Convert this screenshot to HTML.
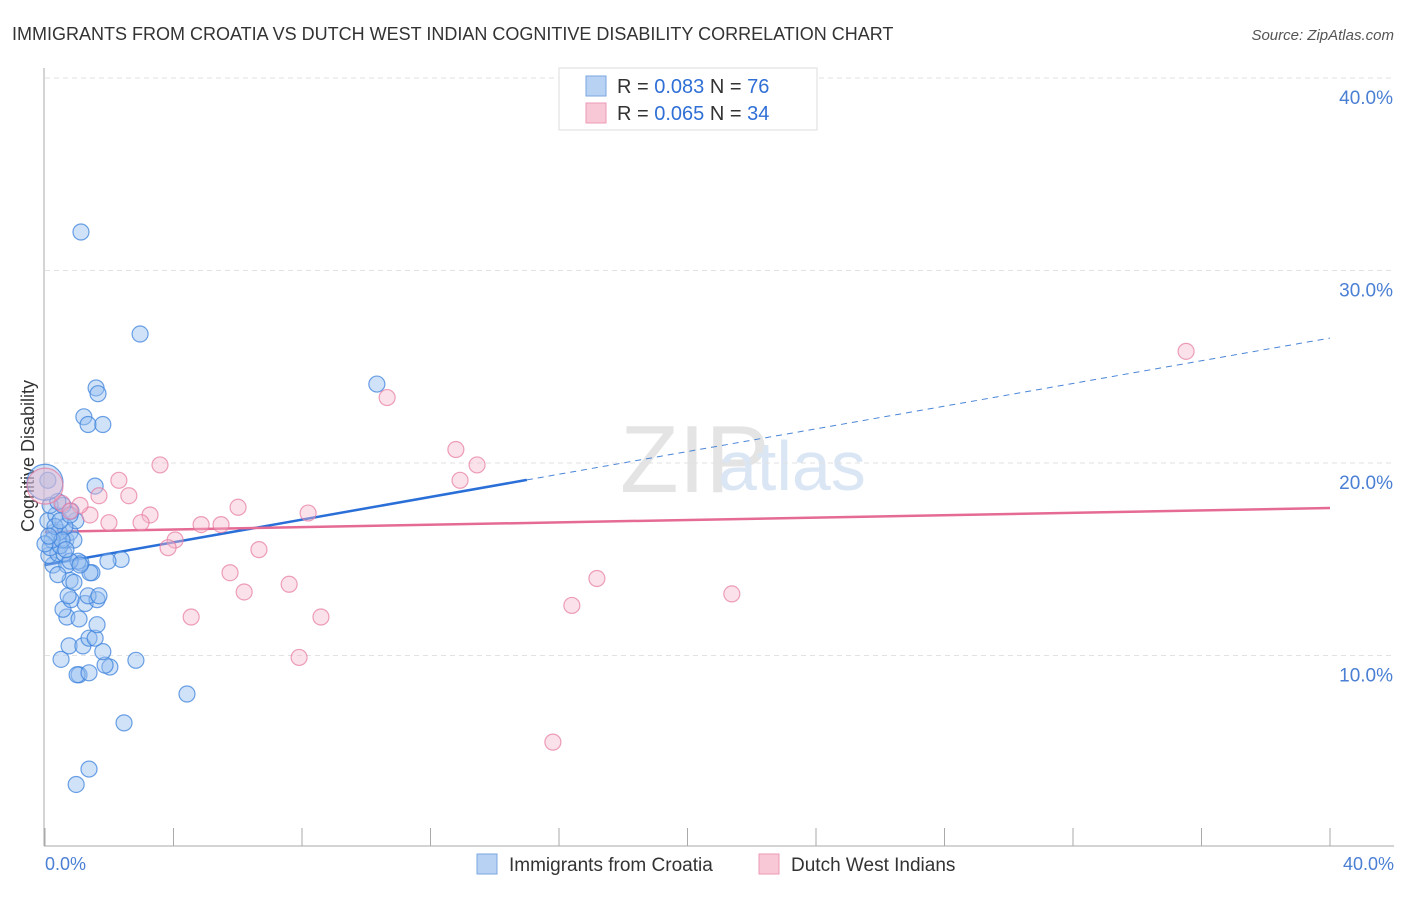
<!DOCTYPE html>
<html><head><meta charset="utf-8"><style>
body{margin:0;background:#fff;font-family:"Liberation Sans",sans-serif;}
svg text{font-family:"Liberation Sans",sans-serif;}
</style></head><body>
<svg id="c" width="1406" height="892">
<text x="12" y="40" font-size="18" fill="#333">IMMIGRANTS FROM CROATIA VS DUTCH WEST INDIAN COGNITIVE DISABILITY CORRELATION CHART</text>
<text x="1394" y="40" font-size="15" fill="#555" font-style="italic" text-anchor="end">Source: ZipAtlas.com</text>
<text x="620" y="492" font-size="96" fill="#e4e4e4" font-family="Liberation Serif">ZIP</text>
<text x="718" y="490" font-size="70" fill="#dbe6f5">atlas</text>
<g id="grid"></g>
<line x1="44" y1="68" x2="44" y2="846" stroke="#aaa"/>
<line x1="44" y1="846" x2="1394" y2="846" stroke="#aaa"/>
<text transform="translate(34,456) rotate(-90)" font-size="18" fill="#333" text-anchor="middle">Cognitive Disability</text>
<text x="45" y="870" font-size="18" fill="#4a7fd4">0.0%</text>
<text x="1394" y="870" font-size="18" fill="#4a7fd4" text-anchor="end">40.0%</text>
<g id="ticks"></g>
<g id="lines"></g>
<g id="pts"></g>
<g>
<rect x="559" y="68" width="258" height="62" fill="#fff" stroke="#ddd"/>
<rect x="586" y="76" width="20" height="20" fill="#b8d2f4" stroke="#7aa7e0"/>
<text x="617" y="93" font-size="20" fill="#333">R = <tspan fill="#2f6fd6">0.083</tspan>    N = <tspan fill="#2f6fd6">76</tspan></text>
<rect x="586" y="103" width="20" height="20" fill="#f8c8d6" stroke="#ec9ab4"/>
<text x="617" y="120" font-size="20" fill="#333">R = <tspan fill="#2f6fd6">0.065</tspan>    N = <tspan fill="#2f6fd6">34</tspan></text>
</g>
<g>
<rect x="477" y="854" width="20" height="20" fill="#b8d2f4" stroke="#7aa7e0"/>
<text x="509" y="871" font-size="19" fill="#333">Immigrants from Croatia</text>
<rect x="759" y="854" width="20" height="20" fill="#f8c8d6" stroke="#ec9ab4"/>
<text x="791" y="871" font-size="19" fill="#333">Dutch West Indians</text>
</g>
</svg>
<script>
const yTicks=[10,20,30,40];
const xTicks=[0,4,8,12,16,20,24,28,32,36,40];
const blueX=[1.12,2.96,1.59,1.65,10.33,1.21,1.34,1.8,1.56,2.37,4.42,2.46,1.37,0.97,2.83,2.02,1.87,1.06,1,1.37,0.5,1.8,0.75,1.18,1.37,1.56,1.62,0.68,1.06,0.56,1.25,1.62,0.81,0.72,1.34,1.68,0.78,0.9,1.46,1.4,0.25,0.68,1.12,1.03,1.96,0.12,0.4,0.59,0.78,0.16,0.47,0.65,0.28,0.78,0.44,0.96,0.09,0.34,0.81,0.56,0.16,0.4,0.09,0.62,0.22,0.31,0.9,0.53,0,0.12,0.47,0.78,0.65,1.09,0.4,0];
const blueY=[32,26.7,23.9,23.6,24.1,22.4,22,22,18.8,14.99,8.0,6.5,4.1,3.3,9.75,9.4,9.5,9.0,9.0,9.1,9.8,10.2,10.5,10.5,10.9,10.9,11.6,12,11.9,12.4,12.7,12.9,12.9,13.1,13.1,13.1,13.9,13.8,14.3,14.3,14.7,14.7,14.8,14.9,14.9,15.2,15.3,15.3,14.9,15.6,15.7,16.0,16.4,16.4,16.4,17.0,17.0,17.3,17.5,17.8,17.8,18.0,19.1,16.7,16.0,16.7,16.0,16.0,15.8,16.2,17.0,17.3,15.5,14.7,14.2,19.0];
const pinkX=[35.52,10.65,12.79,13.45,12.92,3.58,2.3,1.68,2.61,6.01,3.27,1.4,1.99,2.99,4.86,5.48,8.19,4.05,3.83,6.66,5.76,7.6,6.2,17.18,16.4,21.38,4.55,8.59,7.91,15.81,0.53,1.09,0.78,0];
const pinkY=[25.8,23.4,20.7,19.9,19.1,19.9,19.1,18.3,18.3,17.7,17.3,17.3,16.9,16.9,16.8,16.8,17.4,16.0,15.6,15.5,14.3,13.7,13.3,14.0,12.6,13.2,12.0,12.0,9.9,5.5,17.9,17.8,17.5,18.8];
const blueTrend=[14.7,26.49];
const pinkTrend=[16.42,17.66];
const NS='http://www.w3.org/2000/svg';
const X=v=>45+v/40*1285, Y=v=>848-v*19.25;
function mk(t,a,p){const e=document.createElementNS(NS,t);for(const k in a)e.setAttribute(k,a[k]);document.getElementById(p).appendChild(e);return e;}
yTicks.forEach(t=>{
 const l=mk('line',{x1:45,x2:1394,y1:Y(t),y2:Y(t),stroke:'#e2e2e2','stroke-dasharray':'5,4'},'grid');
 
 
 const tx=mk('text',{x:1393,y:Y(t)+26,'font-size':19,fill:'#4a7fd4','text-anchor':'end'},'ticks');
 tx.textContent=t.toFixed(1)+'%';
 
 
});
xTicks.forEach(t=>{
 const l=mk('line',{x1:X(t),x2:X(t),y1:828,y2:846,stroke:'#aaa'},'ticks');
 
 
});
// trend lines
const xb=15;
let e=mk('line',{x1:X(0),y1:Y(blueTrend[0]),x2:X(xb),y2:Y(blueTrend[0]+(blueTrend[1]-blueTrend[0])*xb/40),stroke:'#2a6fd8','stroke-width':2.5},'lines');


e=mk('line',{x1:X(xb),y1:Y(blueTrend[0]+(blueTrend[1]-blueTrend[0])*xb/40),x2:X(40),y2:Y(blueTrend[1]),stroke:'#4a85d8','stroke-width':1,'stroke-dasharray':'6,5'},'lines');


e=mk('line',{x1:X(0),y1:Y(pinkTrend[0]),x2:X(40),y2:Y(pinkTrend[1]),stroke:'#e56a94','stroke-width':2.5},'lines');


blueX.forEach((v,i)=>{
 const c=mk('circle',{cx:X(v),cy:Y(blueY[i]),r:(i==blueX.length-1)?18:8,fill:'rgba(150,190,240,0.45)',stroke:'rgba(60,130,220,0.75)','stroke-width':1.2},'pts');
 
 
});
pinkX.forEach((v,i)=>{
 const c=mk('circle',{cx:X(v),cy:Y(pinkY[i]),r:(i==pinkX.length-1)?18:8,fill:'rgba(245,180,200,0.4)',stroke:'rgba(230,120,160,0.7)','stroke-width':1.2},'pts');
 
 
});
</script>
</body></html>
